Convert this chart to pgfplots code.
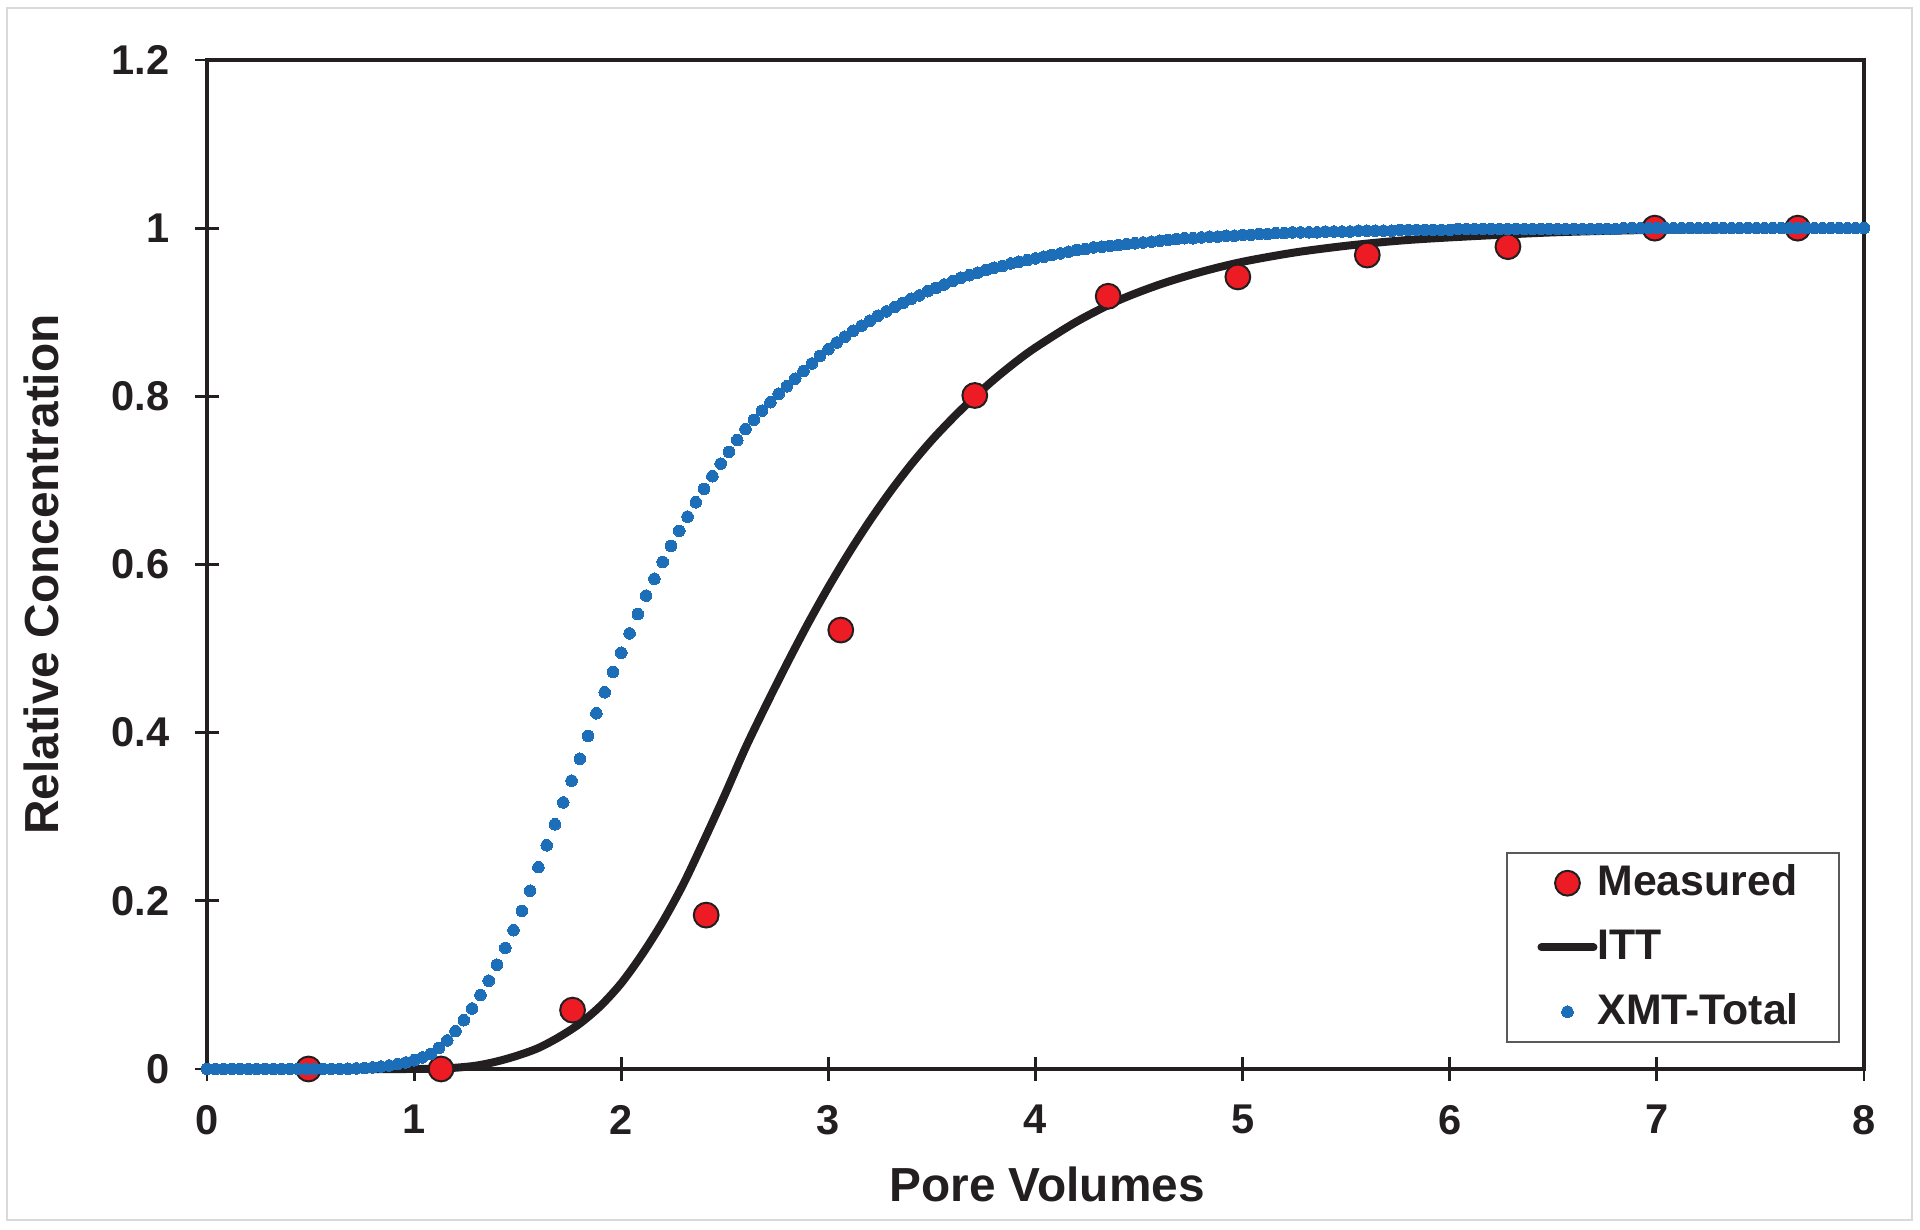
\documentclass[border=0pt]{standalone}
\usepackage{fontspec}
\setmainfont{Liberation Sans}
\usepackage{pgfplots}
\pgfplotsset{compat=1.18}
\definecolor{xmtblue}{HTML}{1B6EB7}
\definecolor{measred}{HTML}{ED1C24}
\definecolor{ittblack}{HTML}{231F20}
\definecolor{framegray}{HTML}{D9D9D9}
\pgfplotsset{
    dotlegend/.style={legend image code/.code={\draw[##1] plot coordinates {(7.5pt,0pt)};}},
    linelegend/.style={legend image code/.code={\draw[##1] (1pt,0pt) -- (14pt,0pt);}},
}

\begin{document}
\begin{tikzpicture}[x=1pt,y=1pt]
% page is 1920x1230 px at 0.25pt per px
\path[use as bounding box] (0,0) rectangle (480,307.5);
\draw[framegray, line width=0.7pt] (1.75,2.5) rectangle (478,305.5);
\begin{axis}[
    at={(51.75pt,40.25pt)}, anchor=south west,
    scale only axis,
    width=414.25pt, height=252.25pt,
    xmin=0, xmax=8, ymin=0, ymax=1.2,
    xtick={0,1,2,3,4,5,6,7,8},
    ytick={0,0.2,0.4,0.6,0.8,1,1.2},
    xtick pos=lower, ytick pos=left,
    tick align=center,
    major tick length=6pt,
    tick style={line width=0.7pt, ittblack},
    axis line style={line width=0.8pt, ittblack},
    /pgf/number format/assume math mode=true,
    ticklabel style={font=\bfseries\fontsize{10.4}{12}\selectfont, text=ittblack},
    yticklabel style={inner sep=0pt, xshift=-6.2pt},
    xticklabel style={inner sep=0pt, yshift=-5.8pt},
    xlabel={Pore Volumes},
    ylabel={Relative Concentration},
    label style={font=\bfseries\fontsize{11.95}{14}\selectfont, text=ittblack},
    xlabel style={at={(axis description cs:0.507,-0.1145)}, anchor=center},
    ylabel style={at={(axis description cs:-0.1002,0.490)}, anchor=center},
    clip=false,
    legend cell align=left,
    legend style={at={(axis description cs:0.9855,0.0258)}, anchor=south east,
        draw=gray!70!black, line width=0.6pt, fill=white,
        font=\bfseries\fontsize{10.7}{12}\selectfont,
        inner xsep=7.6pt, inner ysep=2.9pt, row sep=7pt,
        nodes={inner sep=0pt, text=ittblack}},
]
\addlegendimage{only marks, mark=*, mark size=3.1pt,
    mark options={fill=measred, draw=ittblack, line width=0.5pt}, dotlegend}
\addlegendentry{Measured\kern2.4pt}
\addlegendimage{ittblack, line width=2pt, line cap=round, linelegend}
\addlegendentry{ITT}
\addlegendimage{only marks, mark=*, mark size=1.45pt,
    mark options={fill=xmtblue, draw=xmtblue, line width=0pt}, dotlegend}
\addlegendentry{XMT-Total\kern2.4pt}

% ITT model
\addplot[ittblack, line width=2pt, smooth, forget plot] table {
x y
0 0
0.5 0
1.0 0
1.1 0.0003
1.2 0.0015
1.3 0.004
1.4 0.009
1.5 0.016
1.6 0.025
1.7 0.038
1.8 0.054
1.9 0.075
2.0 0.102
2.1 0.136
2.2 0.175
2.3 0.220
2.4 0.272
2.5 0.326
2.6 0.382
2.7 0.433
2.8 0.482
2.9 0.529
3.0 0.573
3.1 0.614
3.2 0.652
3.3 0.687
3.4 0.719
3.5 0.748
3.6 0.774
3.7 0.798
3.8 0.820
3.9 0.840
4.0 0.858
4.2 0.889
4.4 0.914
4.6 0.933
4.8 0.948
5.0 0.960
5.25 0.971
5.5 0.979
5.75 0.985
6.0 0.989
6.5 0.995
7.0 0.998
7.5 0.999
8.0 1.0
};

% measured
\addplot[only marks, mark=*, mark size=3.1pt,
    mark options={fill=measred, draw=ittblack, line width=0.5pt}, forget plot]
    coordinates {(0.49,0) (1.13,0) (1.765,0.070) (2.41,0.183) (3.06,0.522)
    (3.707,0.801) (4.351,0.919) (4.977,0.942) (5.602,0.968) (6.281,0.978)
    (6.99,1.0) (7.68,1.0)};

% XMT-Total
\addplot[only marks, mark=*, mark size=1.45pt,
    mark options={fill=xmtblue, draw=xmtblue, line width=0pt}, forget plot] table {
x y
0.00 0
0.04 0
0.08 0
0.12 0
0.16 0
0.20 0
0.24 0
0.28 0
0.32 0
0.36 0
0.40 0
0.44 0
0.48 0
0.52 0
0.56 0
0.60 0.0001
0.64 0.0002
0.68 0.0004
0.72 0.0007
0.76 0.0012
0.80 0.0019
0.84 0.0029
0.88 0.0042
0.92 0.0058
0.96 0.0078
1.00 0.0104
1.04 0.0137
1.08 0.018
1.12 0.025
1.16 0.034
1.20 0.045
1.24 0.058
1.28 0.072
1.32 0.088
1.36 0.105
1.40 0.124
1.44 0.144
1.48 0.165
1.52 0.188
1.56 0.212
1.60 0.240
1.64 0.266
1.68 0.291
1.72 0.317
1.76 0.343
1.80 0.369
1.84 0.396
1.88 0.423
1.92 0.448
1.96 0.472
2.00 0.495
2.04 0.518
2.08 0.541
2.12 0.563
2.16 0.583
2.20 0.603
2.24 0.622
2.28 0.640
2.32 0.657
2.36 0.674
2.40 0.690
2.44 0.705
2.48 0.720
2.52 0.734
2.56 0.748
2.60 0.761
2.64 0.772
2.68 0.783
2.72 0.793
2.76 0.803
2.80 0.812
2.84 0.821
2.88 0.830
2.92 0.839
2.96 0.848
3.00 0.856
3.04 0.864
3.08 0.871
3.12 0.878
3.16 0.884
3.20 0.890
3.24 0.896
3.28 0.901
3.32 0.906
3.36 0.911
3.40 0.916
3.44 0.920
3.48 0.925
3.52 0.929
3.56 0.933
3.60 0.937
3.64 0.941
3.68 0.944
3.72 0.947
3.76 0.950
3.80 0.953
3.84 0.955
3.88 0.958
3.92 0.960
3.96 0.962
4.00 0.964
4.04 0.966
4.08 0.968
4.12 0.970
4.16 0.972
4.20 0.974
4.24 0.975
4.28 0.977
4.32 0.978
4.36 0.979
4.40 0.980
4.44 0.981
4.48 0.982
4.52 0.983
4.56 0.984
4.60 0.985
4.64 0.986
4.68 0.987
4.72 0.988
4.76 0.988
4.80 0.989
4.84 0.990
4.88 0.990
4.92 0.991
4.96 0.991
5.00 0.992
5.04 0.992
5.08 0.993
5.12 0.993
5.16 0.994
5.20 0.994
5.24 0.995
5.28 0.995
5.32 0.995
5.36 0.995
5.40 0.996
5.44 0.996
5.48 0.996
5.52 0.996
5.56 0.997
5.60 0.997
5.64 0.997
5.68 0.997
5.72 0.997
5.76 0.998
5.80 0.998
5.84 0.998
5.88 0.998
5.92 0.998
5.96 0.998
6.00 0.998
6.04 0.999
6.08 0.999
6.12 0.999
6.16 0.999
6.20 0.999
6.24 0.999
6.28 0.999
6.32 0.999
6.36 0.999
6.40 0.999
6.44 0.999
6.48 0.999
6.52 0.999
6.56 0.999
6.60 0.999
6.64 0.999
6.68 0.999
6.72 0.999
6.76 0.999
6.80 0.999
6.84 1.000
6.88 1.000
6.92 1.000
6.96 1.000
7.00 1.000
7.04 1.000
7.08 1.000
7.12 1.000
7.16 1.000
7.20 1.000
7.24 1.000
7.28 1.000
7.32 1.000
7.36 1.000
7.40 1.000
7.44 1.000
7.48 1.000
7.52 1.000
7.56 1.000
7.60 1.000
7.64 1.000
7.68 1.000
7.72 1.000
7.76 1.000
7.80 1.000
7.84 1.000
7.88 1.000
7.92 1.000
7.96 1.000
8.00 1.000
};
\end{axis}
\end{tikzpicture}
\end{document}
